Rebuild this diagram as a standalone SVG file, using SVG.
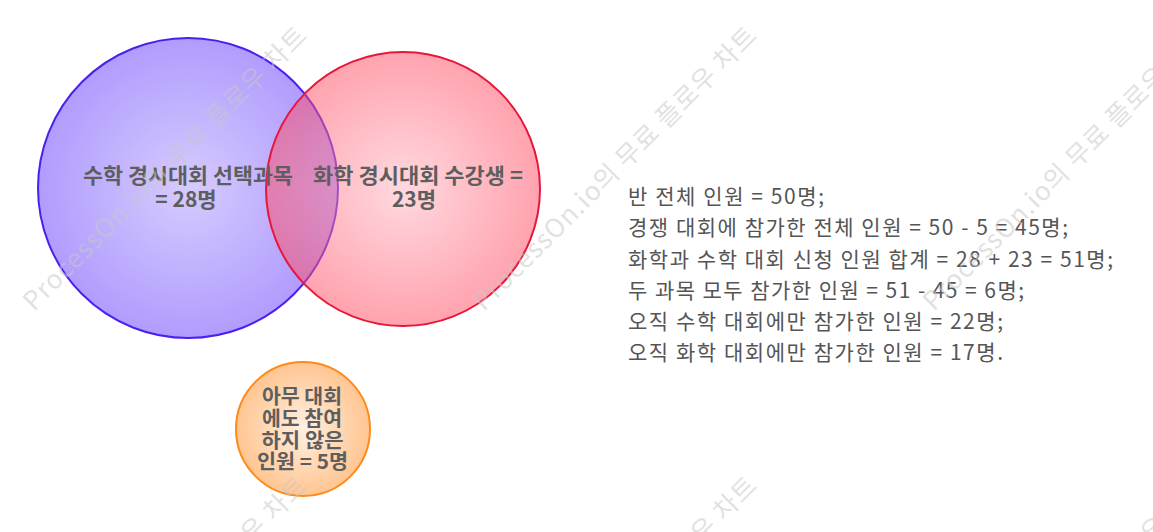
<svg xmlns="http://www.w3.org/2000/svg" xmlns:xlink="http://www.w3.org/1999/xlink" width="1153" height="532" viewBox="0 0 1153 532">
<style>
.lbl{font-family:"Noto Sans CJK KR","Noto Sans",sans-serif;font-weight:bold;font-size:21px;fill:#5e5e5e;text-anchor:middle}
.lbls{font-size:20px}
.note{font-family:"Noto Sans CJK KR","Noto Sans",sans-serif;font-size:21px;fill:#555555}
.wm{font-family:"Noto Sans CJK KR","Noto Sans",sans-serif;font-size:26px;fill:#c8c8c8;fill-opacity:0.55}
</style>
<defs>
<radialGradient id="gBlue" cx="50%" cy="50%" r="50%">
<stop offset="0" stop-color="#d6cbff"/>
<stop offset="1" stop-color="#b19cfd"/>
</radialGradient>
<radialGradient id="gRed" cx="50%" cy="50%" r="50%">
<stop offset="0" stop-color="#ffb3bf"/>
<stop offset="1" stop-color="#ff4860"/>
</radialGradient>
<radialGradient id="gOrange" cx="50%" cy="50%" r="50%">
<stop offset="0" stop-color="#fff0e2"/>
<stop offset="1" stop-color="#ffc591"/>
</radialGradient>
<text id="wmText" class="wm" x="0" y="0" textLength="388" lengthAdjust="spacing">ProcessOn.io의 무료 플로우 차트</text>
</defs>
<g id="math">
<circle cx="188" cy="188" r="150" fill="url(#gBlue)" stroke="#4a1ff0" stroke-width="2"/>
</g>
<g id="chem">
<circle cx="403" cy="189" r="137" fill="url(#gRed)" fill-opacity="0.5" stroke="#e8163a" stroke-width="2"/>
</g>
<g id="none">
<circle cx="303" cy="429" r="67" fill="url(#gOrange)" stroke="#ff8a1c" stroke-width="2"/>
</g>
<g id="labels">
<text class="lbl"><tspan x="188" y="183" textLength="210" lengthAdjust="spacingAndGlyphs">수학 경시대회 선택과목</tspan><tspan x="186" y="207">= 28명</tspan></text>
<text class="lbl"><tspan x="418" y="183" textLength="210" lengthAdjust="spacingAndGlyphs">화학 경시대회 수강생 =</tspan><tspan x="414" y="207">23명</tspan></text>
<text class="lbl lbls"><tspan x="302" y="404" textLength="80" lengthAdjust="spacingAndGlyphs">아무 대회</tspan><tspan x="302" y="426" textLength="80" lengthAdjust="spacingAndGlyphs">에도 참여</tspan><tspan x="302.5" y="447.5" textLength="82" lengthAdjust="spacingAndGlyphs">하지 않은</tspan><tspan x="302.5" y="469" textLength="91" lengthAdjust="spacingAndGlyphs">인원 = 5명</tspan></text>
</g>
<g id="notes">
<text class="note" x="628" y="203.5" textLength="196" lengthAdjust="spacing">반 전체 인원 = 50명;</text>
<text class="note" x="628" y="235" textLength="440" lengthAdjust="spacing">경쟁 대회에 참가한 전체 인원 = 50 - 5 = 45명;</text>
<text class="note" x="628" y="266.5" textLength="485" lengthAdjust="spacing">화학과 수학 대회 신청 인원 합계 = 28 + 23 = 51명;</text>
<text class="note" x="628" y="297.5" textLength="396" lengthAdjust="spacing">두 과목 모두 참가한 인원 = 51 - 45 = 6명;</text>
<text class="note" x="628" y="329" textLength="375" lengthAdjust="spacing">오직 수학 대회에만 참가한 인원 = 22명;</text>
<text class="note" x="628" y="360" textLength="375" lengthAdjust="spacing">오직 화학 대회에만 참가한 인원 = 17명.</text>
</g>
<g id="watermark">
<use xlink:href="#wmText" transform="translate(34,312) rotate(-45)"/>
<use xlink:href="#wmText" transform="translate(484,312) rotate(-45)"/>
<use xlink:href="#wmText" transform="translate(934,312) rotate(-45)"/>
<use xlink:href="#wmText" transform="translate(34,762) rotate(-45)"/>
<use xlink:href="#wmText" transform="translate(484,762) rotate(-45)"/>
<use xlink:href="#wmText" transform="translate(934,762) rotate(-45)"/>
</g>
</svg>
